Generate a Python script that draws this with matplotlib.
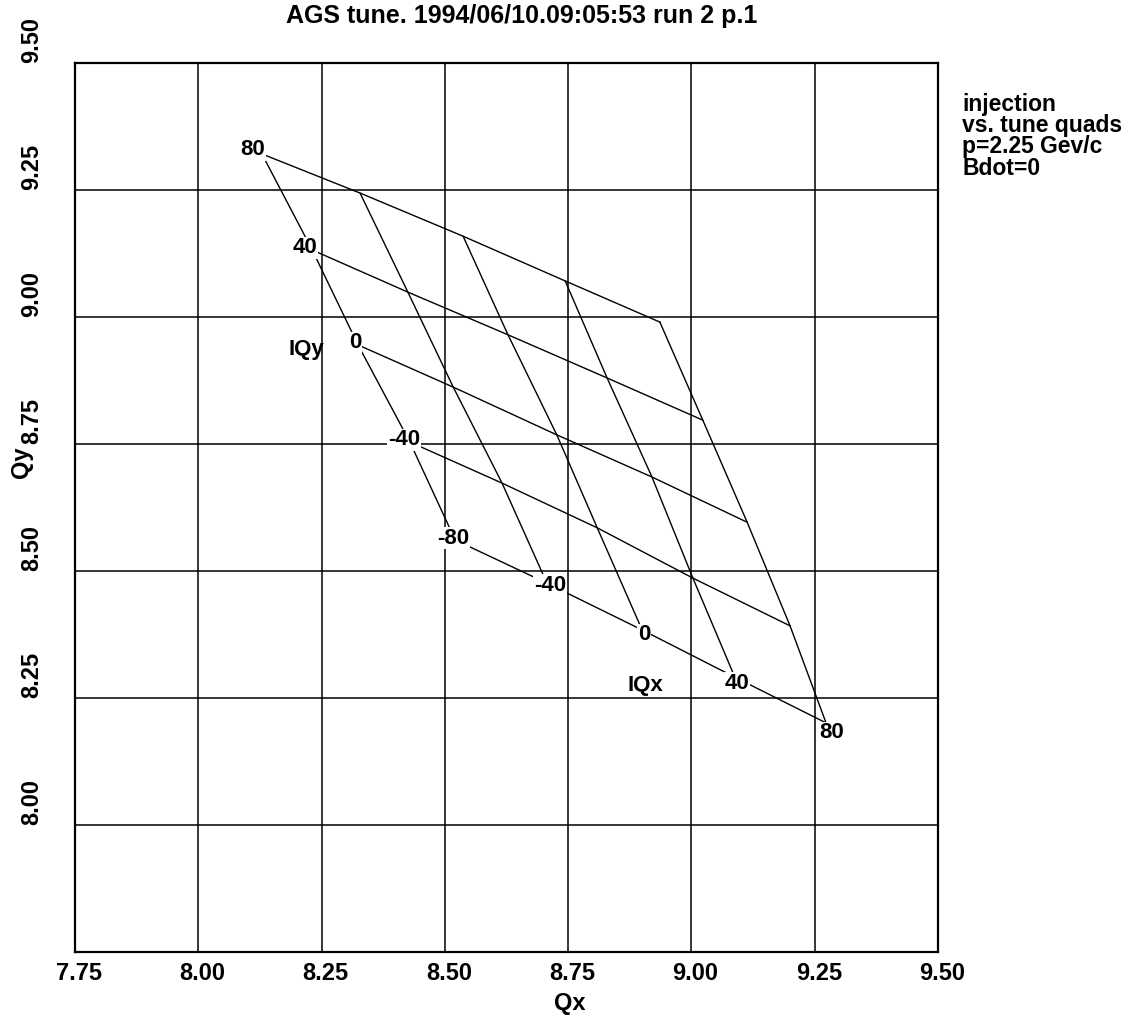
import matplotlib
matplotlib.use('Agg')
import matplotlib.pyplot as plt
from matplotlib.transforms import ScaledTranslation

plt.rcParams['font.family'] = ['Liberation Sans', 'DejaVu Sans']
plt.rcParams['font.weight'] = 'bold'

# ---------------- data ----------------
iqx_values = [-80, -40, 0, 40, 80]          # tune quad current IQx (columns)
iqy_values = [80, 40, 0, -40, -80]          # tune quad current IQy (rows)

# Qx / Qy of each measured point; one list per IQy row, ordered by IQx
qx_iqy_p80 = [8.129, 8.328, 8.537, 8.744, 8.936]
qy_iqy_p80 = [9.321, 9.244, 9.159, 9.071, 8.990]
qx_iqy_p40 = [8.231, 8.425, 8.628, 8.829, 9.023]
qy_iqy_p40 = [9.132, 9.049, 8.965, 8.880, 8.797]
qx_iqy_0 = [8.324, 8.517, 8.727, 8.920, 9.113]
qy_iqy_0 = [8.945, 8.862, 8.768, 8.685, 8.596]
qx_iqy_m40 = [8.429, 8.616, 8.809, 9.003, 9.200]
qy_iqy_m40 = [8.754, 8.673, 8.585, 8.486, 8.392]
qx_iqy_m80 = [8.521, 8.707, 8.900, 9.088, 9.273]
qy_iqy_m80 = [8.561, 8.476, 8.384, 8.291, 8.201]

x_ticks = [7.75, 8.00, 8.25, 8.50, 8.75, 9.00, 9.25, 9.50]
x_tick_labels = ['7.75', '8.00', '8.25', '8.50', '8.75', '9.00', '9.25', '9.50']
y_ticks = [7.75, 8.00, 8.25, 8.50, 8.75, 9.00, 9.25, 9.50]
y_tick_labels = ['', '8.00', '8.25', '8.50', '8.75', '9.00', '9.25', '9.50']

title = 'AGS tune. 1994/06/10.09:05:53 run 2 p.1'
side_note = ['injection', 'vs. tune quads', 'p=2.25 Gev/c', 'Bdot=0']

# ---------------- layout ----------------
W, H = 1143, 1021
fig = plt.figure(figsize=(W / 100, H / 100), dpi=100)
ax = fig.add_axes([75 / W, 1 - 952 / H, (938 - 75) / W, (952 - 63) / H])

qx_rows = [qx_iqy_p80, qx_iqy_p40, qx_iqy_0, qx_iqy_m40, qx_iqy_m80]
qy_rows = [qy_iqy_p80, qy_iqy_p40, qy_iqy_0, qy_iqy_m40, qy_iqy_m80]

line_kw = dict(color='black', lw=1.0, zorder=3)
# constant-IQy lines
for qx, qy in zip(qx_rows, qy_rows):
    ax.plot(qx, qy, **line_kw)
# constant-IQx lines
for j in range(len(iqx_values)):
    ax.plot([r[j] for r in qx_rows], [r[j] for r in qy_rows], **line_kw)

lab_kw = dict(fontsize=16, fontweight='bold', ha='center', va='center', zorder=5,
              textcoords='offset points',
              bbox=dict(fc='white', ec='none', pad=0.6))
px = 0.72
# IQy labels along the IQx=-80 edge
iqy_offsets = [(-9, 4), (-7, 2), (-3, 2), (-6, 2), (-2, 2)]
for i, v in enumerate(iqy_values):
    dx, dy = iqy_offsets[i]
    ax.annotate(str(v), (qx_rows[i][0], qy_rows[i][0]),
                xytext=(dx * px, dy * px), **lab_kw)
# IQx labels along the IQy=-80 edge (first one shared with the corner)
iqx_offsets = [None, (3, -2), (2, -5), (2, -6), (6, -10)]
for j, v in enumerate(iqx_values):
    if iqx_offsets[j] is None:
        continue
    dx, dy = iqx_offsets[j]
    ax.annotate(str(v), (qx_rows[-1][j], qy_rows[-1][j]),
                xytext=(dx * px, dy * px), **lab_kw)

ax.text(8.220, 8.937, 'IQy', fontsize=16, fontweight='bold', ha='center', va='center', zorder=5)
ax.text(8.906, 8.274, 'IQx', fontsize=16, fontweight='bold', ha='center', va='center', zorder=5)

ax.set_xlim(7.75, 9.50)
ax.set_ylim(7.75, 9.50)
ax.set_xticks(x_ticks)
ax.set_xticklabels(x_tick_labels, fontsize=17, fontweight='bold')
ax.set_yticks(y_ticks)
ax.set_yticklabels(y_tick_labels, fontsize=17, fontweight='bold', rotation=90,
                   va='bottom', ha='center')
ax.tick_params(axis='x', length=0, pad=7)
ax.tick_params(axis='y', length=0, pad=31)
shift = ScaledTranslation(4 / 100, 0, fig.dpi_scale_trans)
for lbl in ax.get_xticklabels():
    lbl.set_transform(lbl.get_transform() + shift)
ax.grid(True, color='black', lw=1.1)
ax.set_axisbelow(True)
for s in ax.spines.values():
    s.set_linewidth(1.6)

fig.text(522 / W, 1 - 16 / H, title, fontsize=18, fontweight='bold', ha='center', va='center')
fig.text(570 / W, 1 - 1003 / H, 'Qx', fontsize=17, fontweight='bold', ha='center', va='center')
fig.text(21 / W, 1 - 462 / H, 'Qy', fontsize=17, fontweight='bold', ha='center', va='center',
         rotation=90)
fig.text(962 / W, 1 - 93 / H, '\n'.join(side_note), fontsize=16.5, fontweight='bold',
         ha='left', va='top', linespacing=0.9)

fig.savefig('out.png', dpi=100, facecolor='white')
